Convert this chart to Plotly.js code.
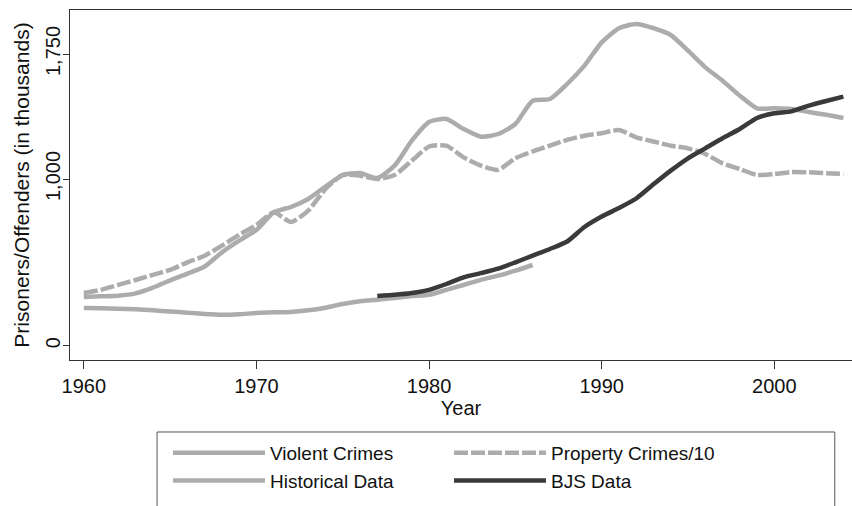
<!DOCTYPE html>
<html>
<head>
<meta charset="utf-8">
<script src="https://cdn.plot.ly/plotly-3.0.1.min.js"></script>
<style>
  html, body { margin: 0; padding: 0; background: #fff; }
  #chart { width: 852px; height: 506px; }
</style>
</head>
<body>
<div id="chart"></div>
<script>
// Years
const yearsCrime = [1960,1961,1962,1963,1964,1965,1966,1967,1968,1969,
                    1970,1971,1972,1973,1974,1975,1976,1977,1978,1979,
                    1980,1981,1982,1983,1984,1985,1986,1987,1988,1989,
                    1990,1991,1992,1993,1994,1995,1996,1997,1998,1999,
                    2000,2001,2002,2003,2004];
const yearsHistorical = [1960,1961,1962,1963,1964,1965,1966,1967,1968,1969,
                         1970,1971,1972,1973,1974,1975,1976,1977,1978,1979,
                         1980,1981,1982,1983,1984,1985,1986];
const yearsBJS = [1977,1978,1979,1980,1981,1982,1983,1984,1985,1986,
                  1987,1988,1989,1990,1991,1992,1993,1994,1995,1996,
                  1997,1998,1999,2000,2001,2002,2003,2004];

// Values (thousands)
const violentCrimes = [292,296,300,314,348,392,432,475,560,630,
                       694,800,832,880,955,1024,1036,1006,1080,1230,
                       1342,1360,1300,1254,1270,1330,1470,1480,1570,1680,
                       1820,1905,1930,1905,1864,1770,1670,1590,1500,1424,
                       1424,1420,1402,1385,1366];
const propertyCrimes10 = [316,335,365,394,425,455,500,540,600,665,
                          724,800,742,810,940,1024,1020,1000,1024,1110,
                          1195,1200,1130,1080,1055,1125,1165,1200,1235,1260,
                          1275,1294,1250,1225,1200,1184,1150,1094,1060,1024,
                          1030,1042,1040,1035,1030];
const historicalData = [226,225,222,218,212,205,198,190,185,188,
                        196,200,202,212,228,250,266,276,286,298,
                        305,335,364,395,420,450,484];
const bjsData = [298,305,316,335,370,410,435,462,500,540,
                 580,625,712,775,826,883,968,1050,1124,1184,
                 1245,1300,1366,1394,1406,1440,1468,1494];

const yTickVals = [0, 1000, 1750];
const yTickText = ['0', '1,000', '1,750'];
const xTickVals = [1960, 1970, 1980, 1990, 2000];

const lightGray = '#acacac';
const darkGray = '#3a3a3a';

const traces = [
  { x: yearsCrime, y: violentCrimes, name: 'Violent Crimes', type: 'scatter', mode: 'lines',
    line: { color: lightGray, width: 4.5, shape: 'spline', smoothing: 0.6 } },
  { x: yearsCrime, y: propertyCrimes10, name: 'Property Crimes/10', type: 'scatter', mode: 'lines',
    line: { color: lightGray, width: 4.5, dash: '14px,3px', shape: 'spline', smoothing: 0.6 } },
  { x: yearsHistorical, y: historicalData, name: 'Historical Data', type: 'scatter', mode: 'lines',
    line: { color: lightGray, width: 4.5, shape: 'spline', smoothing: 0.6 } },
  { x: yearsBJS, y: bjsData, name: 'BJS Data', type: 'scatter', mode: 'lines',
    line: { color: darkGray, width: 4.5, shape: 'spline', smoothing: 0.6 } }
];

const font = { family: 'Liberation Sans, Arial, sans-serif', size: 20, color: '#111' };
const titleFont = { family: 'Liberation Sans, Arial, sans-serif', size: 21, color: '#111' };
const legendFont = { family: 'Liberation Sans, Arial, sans-serif', size: 19, color: '#111' };

const layout = {
  width: 852, height: 506,
  margin: { l: 70, r: 0, t: 10, b: 146 },
  paper_bgcolor: '#fff', plot_bgcolor: '#fff',
  font: font,
  showlegend: true,
  xaxis: {
    range: [1959.2, 2004.5],
    tickvals: xTickVals,
    ticks: 'outside', ticklen: 8, tickcolor: '#333', tickwidth: 1,
    showline: true, linecolor: '#333', linewidth: 1, mirror: true,
    showgrid: false, zeroline: false,
    tickfont: font,
    title: { text: 'Year', font: font, standoff: 2 }
  },
  yaxis: {
    range: [-86, 2014],
    tickvals: yTickVals, ticktext: yTickText,
    tickangle: -90,
    ticks: 'outside', ticklen: 6, tickcolor: '#333', tickwidth: 1,
    ticklabelstandoff: -5,
    showline: true, linecolor: '#333', linewidth: 1,
    showgrid: false, zeroline: false,
    tickfont: font,
    title: { text: 'Prisoners/Offenders (in thousands)', font: titleFont, standoff: 6 }
  },
  legend: {
    orientation: 'h',
    x: 0.1253, xanchor: 'left',
    y: -0.2114, yanchor: 'top',
    bgcolor: 'rgba(0,0,0,0)', borderwidth: 0,
    font: legendFont,
    itemwidth: 92,
    entrywidth: 174,
    traceorder: 'normal'
  },
  shapes: [
    { type: 'rect', xref: 'paper', yref: 'paper',
      x0: 0.1113, x1: 0.978, y0: -0.46, y1: -0.2057,
      line: { color: '#555', width: 1 }, fillcolor: 'rgba(0,0,0,0)', layer: 'above' }
  ]
};

Plotly.newPlot('chart', traces, layout, { displayModeBar: false, staticPlot: true });
</script>
</body>
</html>
